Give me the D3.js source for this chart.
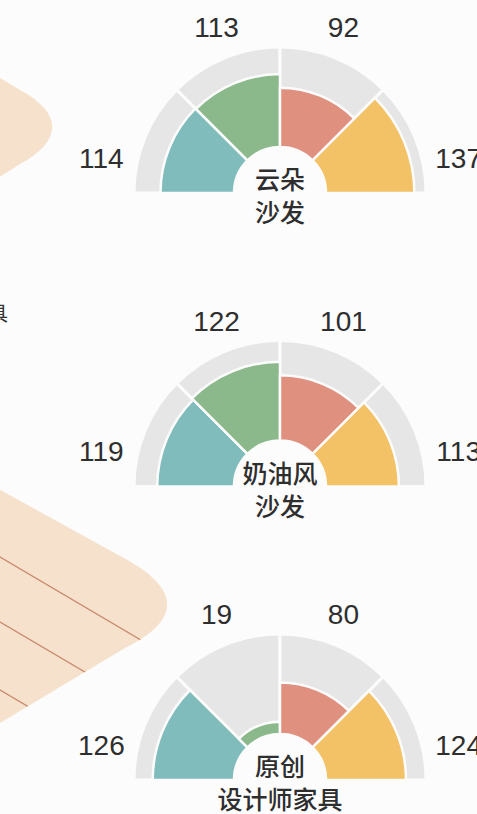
<!DOCTYPE html>
<html>
<head>
<meta charset="utf-8">
<script src="https://cdn.jsdelivr.net/npm/d3@7"></script>
<style>
  html, body { margin: 0; padding: 0; background: #fcfcfc; }
  svg { display: block; }
</style>
</head>
<body>
<svg id="chart" width="477" height="814"></svg>
<script>
// ---- data ----
const products   = ["云朵沙发", "奶油风沙发", "原创设计师家具"];
const nameLine1  = ["云朵", "奶油风", "原创"];
const nameLine2  = ["沙发", "沙发", "设计师家具"];
const seriesTeal   = [114, 119, 126];
const seriesGreen  = [113, 122, 19];
const seriesRed    = [92, 101, 80];
const seriesYellow = [137, 113, 124];
const seriesColors = ["#80bcbc", "#8cb98c", "#e0907f", "#f3c266"];

// ---- layout ----
const W = 477, H = 814;
const cx = 280;
const svg = d3.select("#chart");
svg.append("rect").attr("width", W).attr("height", H).attr("fill", "#fcfcfc");

// decorative background shapes (cropped illustration on the left)
const beige = "#f5e1cc";
svg.append("path")
  .attr("d", "M -5,75 L 20,90 C 63,113 63,141 20,164 L -5,180 Z")
  .attr("fill", beige);
const bigShape = "M -5,487 L 120,556 C 182,588 182,620 125,648 L -5,726 Z";
svg.append("clipPath").attr("id", "clipBig").append("path").attr("d", bigShape);
svg.append("path").attr("d", bigShape).attr("fill", beige);
const stripes = [557, 622, 690];
svg.append("g").attr("clip-path", "url(#clipBig)")
  .selectAll("line").data(stripes).join("line")
  .attr("x1", -5).attr("y1", d => d - 3)
  .attr("x2", 200).attr("y2", d => d + 0.59 * 200)
  .attr("stroke", "#c98a6c").attr("stroke-width", 1.3);
svg.append("text").attr("x", 8).attr("y", 312)
  .attr("text-anchor", "end").attr("dominant-baseline", "central")
  .attr("font-family", "'Noto Sans CJK SC', sans-serif").attr("font-size", 20)
  .attr("fill", "#333").text("家具");

// scales
const yScale = d3.scalePoint().domain(products).range([193, 780]);
const rScale = d3.scaleLinear().domain([0, 155]).range([46, 146]);
const R0 = rScale(0), RMAX = rScale(155);

const startAngles = [-Math.PI / 2, -Math.PI / 4, 0, Math.PI / 4];
const labelAngleDeg = [-79, -21, 21, 79];
const labelRadius = [182, 177, 177, 182];

const arc = d3.arc();

products.forEach((p, i) => {
  const cy = yScale(p);
  const g = svg.append("g").attr("transform", `translate(${cx},${cy})`);
  const vals = [seriesTeal[i], seriesGreen[i], seriesRed[i], seriesYellow[i]];

  // gray backgrounds
  g.selectAll("path.bg").data(vals).join("path")
    .attr("class", "bg")
    .attr("d", (d, j) => arc({ innerRadius: R0, outerRadius: RMAX,
      startAngle: startAngles[j], endAngle: startAngles[j] + Math.PI / 4 }))
    .attr("fill", "#e6e6e6")
    .attr("stroke", "#fcfcfc").attr("stroke-width", 3).attr("stroke-linejoin", "round");

  // value arcs
  g.selectAll("path.val").data(vals).join("path")
    .attr("class", "val")
    .attr("d", (d, j) => arc({ innerRadius: R0, outerRadius: rScale(d),
      startAngle: startAngles[j], endAngle: startAngles[j] + Math.PI / 4 }))
    .attr("fill", (d, j) => seriesColors[j])
    .attr("stroke", "#fcfcfc").attr("stroke-width", 2.5);

  // value labels
  g.selectAll("text.v").data(vals).join("text")
    .attr("class", "v")
    .attr("x", (d, j) => labelRadius[j] * Math.sin(labelAngleDeg[j] * Math.PI / 180))
    .attr("y", (d, j) => -labelRadius[j] * Math.cos(labelAngleDeg[j] * Math.PI / 180))
    .attr("text-anchor", "middle").attr("dominant-baseline", "central")
    .attr("font-family", "'Liberation Sans', Arial, sans-serif")
    .attr("font-size", 28).attr("fill", "#2e2e2e")
    .text(d => d);

  // center name (one text, two lines)
  const t = g.append("text")
    .attr("text-anchor", "middle")
    .attr("font-family", "'Noto Sans CJK SC', sans-serif").attr("font-weight", 500)
    .attr("font-size", 25).attr("fill", "#2e2e2e");
  t.append("tspan").attr("x", 0).attr("y", -4).text(nameLine1[i]);
  t.append("tspan").attr("x", 0).attr("y", 29).text(nameLine2[i]);
});
</script>
</body>
</html>
